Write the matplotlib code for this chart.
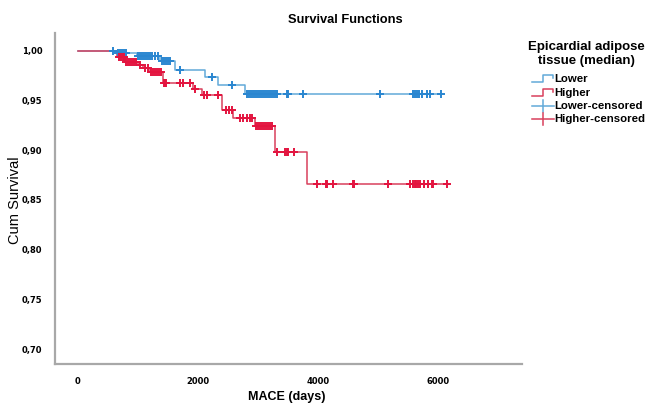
import numpy as np
import matplotlib
matplotlib.use("Agg")
import matplotlib.pyplot as plt
from matplotlib.ticker import FuncFormatter

# Kaplan-Meier steps: event times (days) and survival after each event
lower_times = [0, 650, 983, 1367, 1617, 2117, 2333, 2783]
lower_surv = [1.000, 0.998, 0.995, 0.990, 0.981, 0.974, 0.966, 0.957]
lower_end = 6050

higher_times = [0, 650, 783, 1000, 1083, 1200, 1417, 1917, 2067, 2400, 2583, 2950, 3283, 3817]
higher_surv = [1.000, 0.994, 0.989, 0.986, 0.983, 0.979, 0.968, 0.962, 0.956, 0.941,
               0.932, 0.924, 0.898, 0.866]
higher_end = 6150

# censored follow-up times (days)
lower_cens = [583, 667, 700, 733, 767, 800,
              1000, 1033, 1067, 1100, 1133, 1167, 1200, 1233, 1283, 1333,
              1400, 1433, 1467, 1500, 1533, 1700, 2233, 2567,
              2817, 2850, 2883, 2917, 2950, 2983, 3017, 3050, 3083, 3117, 3150,
              3183, 3217, 3250, 3283, 3317, 3483, 3500, 3750, 5033,
              5583, 5617, 5650, 5683, 5733, 5817, 5867, 6050]
higher_cens = [683, 717, 750, 767,
               800, 833, 867, 900, 933, 967, 1033, 1117, 1167,
               1217, 1250, 1283, 1317, 1350, 1383,
               1433, 1450, 1467, 1700, 1750, 1867, 1950,
               2100, 2150, 2333, 2467, 2517, 2567,
               2700, 2750, 2817, 2867, 2900,
               2967, 3000, 3033, 3067, 3100, 3133, 3167, 3200, 3233, 3317,
               3450, 3483, 3500, 3600,
               3983, 4133, 4150, 4250, 4583, 4600, 5167, 5533, 5583, 5617, 5633,
               5667, 5700, 5767, 5833, 5900, 5917, 6150]

y_ticks = [0.70, 0.75, 0.80, 0.85, 0.90, 0.95, 1.00]
x_ticks = [0, 2000, 4000, 6000]

blue_line = "#62a9d8"
blue_mark = "#2a86d0"
red_line = "#d8405c"
red_mark = "#e3143f"


def surv_at(times, surv, t):
    idx = np.searchsorted(times, t, side="right") - 1
    return np.asarray(surv)[idx]


fig = plt.figure(figsize=(6.46, 4.05), dpi=100)
ax = fig.add_axes([55 / 646, 1 - 364 / 405, (522 - 55) / 646, (364 - 33) / 405])

for times, surv, end, cens, lc, mc in [
    (lower_times, lower_surv, lower_end, lower_cens, blue_line, blue_mark),
    (higher_times, higher_surv, higher_end, higher_cens, red_line, red_mark),
]:
    ax.step(times + [end], surv + [surv[-1]], where="post", color=lc, lw=1.1, zorder=2)
    ax.plot(cens, surv_at(times, surv, cens), ls="none", marker="+", ms=6,
            mew=1.4, color=mc, zorder=3)

ax.set_xlim(-383, 7400)
ax.set_ylim(0.685, 1.018)
ax.set_xticks(x_ticks)
ax.set_yticks(y_ticks)
ax.yaxis.set_major_formatter(FuncFormatter(lambda v, p: f"{v:.2f}".replace(".", ",")))
ax.tick_params(length=0, labelsize=6, pad=9)
for lab in ax.get_xticklabels() + ax.get_yticklabels():
    lab.set_fontweight("bold")
for side in ["top", "right"]:
    ax.spines[side].set_visible(False)
for side in ["left", "bottom"]:
    ax.spines[side].set_color("#a8a8a8")
    ax.spines[side].set_linewidth(1.6)

fig.text(345 / 646, 1 - 20 / 405, "Survival Functions", ha="center", va="center",
         fontsize=9.3, fontweight="bold", family="Liberation Sans")
fig.text(287 / 646, 1 - 397 / 405, "MACE (days)", ha="center", va="center",
         fontsize=9, fontweight="bold", family="Liberation Sans")
fig.text(15 / 646, 1 - 200 / 405, "Cum Survival", ha="center", va="center",
         rotation=90, fontsize=10.5, family="Liberation Sans")

# legend drawn in pixel space on the right
lg = fig.add_axes([0, 0, 1, 1])
lg.set_xlim(0, 646)
lg.set_ylim(405, 0)
lg.axis("off")
lg.text(586, 47, "Epicardial adipose", ha="center", va="center", fontsize=9.5,
        fontweight="bold", family="Liberation Sans")
lg.text(586, 61, "tissue (median)", ha="center", va="center", fontsize=9.5,
        fontweight="bold", family="Liberation Sans")
entries = [("Lower", blue_line, "step", 79), ("Higher", red_line, "step", 93),
           ("Lower-censored", blue_line, "cens", 106), ("Higher-censored", red_line, "cens", 119)]
for label, col, kind, y in entries:
    if kind == "step":
        lg.plot([532, 543, 543, 553, 553], [y + 3, y + 3, y - 4, y - 4, y - 1], color=col, lw=1.1)
    else:
        lg.plot([532, 554], [y, y], color=col, lw=1.1)
        lg.plot([543, 543], [y - 6, y + 6], color=col, lw=1.1)
    lg.text(554, y, label, ha="left", va="center", fontsize=8.2, fontweight="bold",
            family="Liberation Sans")

fig.savefig("out.png", dpi=100)
